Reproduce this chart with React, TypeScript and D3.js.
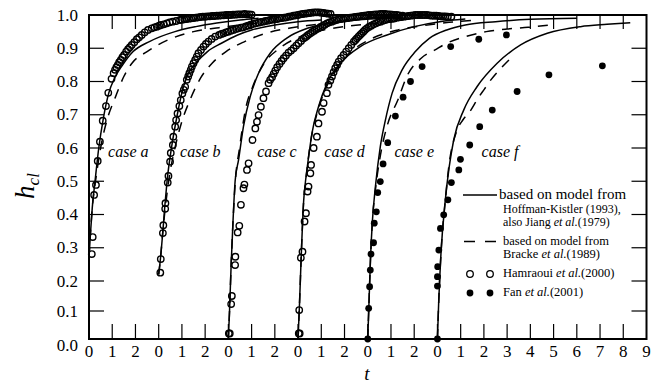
import React from "react";
import * as d3 from "d3";

type Pt = [number, number];

// Each case is drawn on its own local time axis, shifted along the global t axis.
const caseNames = ["a", "b", "c", "d", "e", "f"];
const caseOffsets = [0, 3, 6, 9, 12, 15];
const caseLabelT = [0.82, 0.92, 1.24, 1.13, 1.15, 1.9];
const caseTickLabels = [
  [0, 1, 2],
  [0, 1, 2],
  [0, 1, 2],
  [0, 1, 2],
  [0, 1, 2],
  [0, 1, 2, 3, 4, 5, 6, 7, 8, 9],
];
const yTicks = [0, 0.1, 0.2, 0.3, 0.4, 0.5, 0.6, 0.7, 0.8, 0.9, 1.0];
const yTickLabels = ["0.0", "0.1", "0.2", "0.3", "0.4", "0.5", "0.6", "0.7", "0.8", "0.9", "1.0"];

// Hoffman-Kistler model (solid) per case
const solidA: Pt[] = [[0, 0.27], [0.06, 0.34], [0.14, 0.42], [0.26, 0.5], [0.42, 0.6], [0.62, 0.69], [0.85, 0.765], [1.1, 0.81], [1.45, 0.85], [1.9, 0.89], [2.6, 0.92], [3.7, 0.95], [4.6, 0.965], [5.5, 0.976], [6.5, 0.985], [7.3, 0.99]];
const solidB: Pt[] = [[0, 0.22], [0.08, 0.27], [0.18, 0.35], [0.27, 0.43], [0.36, 0.5], [0.55, 0.6], [0.8, 0.7], [1.05, 0.78], [1.25, 0.82], [1.6, 0.855], [2.1, 0.89], [2.7, 0.915], [3.4, 0.94], [4.0, 0.955], [5.0, 0.97], [6.0, 0.98], [7.0, 0.985]];
const solidC: Pt[] = [[0, 0], [0.05, 0.1], [0.12, 0.25], [0.2, 0.38], [0.29, 0.5], [0.44, 0.565], [0.65, 0.665], [0.94, 0.755], [1.3, 0.825], [1.8, 0.885], [2.5, 0.93], [3.4, 0.96], [4.3, 0.975], [5.5, 0.985], [7.0, 0.99]];
const solidD: Pt[] = [[0, 0], [0.06, 0.12], [0.15, 0.3], [0.24, 0.44], [0.32, 0.5], [0.42, 0.555], [0.6, 0.645], [0.88, 0.724], [1.25, 0.795], [1.82, 0.855], [2.68, 0.905], [3.83, 0.94], [5.0, 0.965], [6.1, 0.98], [7.2, 0.988]];
const solidE: Pt[] = [[0, 0], [0.05, 0.12], [0.12, 0.27], [0.2, 0.38], [0.33, 0.484], [0.54, 0.604], [0.76, 0.684], [1.05, 0.765], [1.48, 0.835], [2.05, 0.89], [2.65, 0.93], [3.4, 0.955], [4.2, 0.97], [5.5, 0.98], [7.0, 0.987], [9.0, 0.99]];
const solidF: Pt[] = [[0, 0], [0.05, 0.12], [0.15, 0.28], [0.34, 0.444], [0.5, 0.54], [0.7, 0.624], [1.13, 0.714], [1.71, 0.785], [2.57, 0.855], [3.58, 0.91], [4.73, 0.945], [6.16, 0.965], [7.3, 0.972], [8.3, 0.977]];

// Bracke model (dashed) per case
const dashedA: Pt[] = [[0, 0.27], [0.06, 0.34], [0.14, 0.42], [0.28, 0.5], [0.5, 0.6], [0.8, 0.69], [1.12, 0.75], [1.5, 0.815], [1.85, 0.855], [2.5, 0.89], [3.4, 0.925], [4.5, 0.95], [5.6, 0.962], [6.5, 0.97], [7.5, 0.978]];
const dashedB: Pt[] = [[0, 0.22], [0.08, 0.27], [0.18, 0.35], [0.3, 0.43], [0.45, 0.51], [0.7, 0.6], [1.0, 0.68], [1.35, 0.745], [1.8, 0.81], [2.3, 0.855], [2.9, 0.89], [3.7, 0.92], [4.6, 0.945], [5.6, 0.96], [6.6, 0.97], [7.6, 0.978]];
const dashedC: Pt[] = [[0, 0], [0.05, 0.1], [0.12, 0.25], [0.2, 0.38], [0.3, 0.5], [0.48, 0.6], [0.75, 0.72], [1.05, 0.785], [1.5, 0.85], [2.2, 0.9], [3.1, 0.935], [4.1, 0.955], [5.2, 0.967], [6.3, 0.975], [7.4, 0.982]];
const dashedD: Pt[] = [[0, 0], [0.06, 0.12], [0.15, 0.3], [0.24, 0.44], [0.33, 0.5], [0.5, 0.6], [0.8, 0.7], [1.2, 0.78], [1.7, 0.84], [2.3, 0.89], [3.2, 0.93], [4.3, 0.955], [5.4, 0.968], [6.5, 0.978], [7.5, 0.984]];
const dashedE: Pt[] = [[0, 0], [0.05, 0.12], [0.12, 0.27], [0.2, 0.38], [0.34, 0.48], [0.55, 0.58], [0.85, 0.67], [1.3, 0.745], [1.68, 0.815], [2.3, 0.87], [2.9, 0.895], [3.4, 0.915], [4.2, 0.935], [5.1, 0.95], [6.0, 0.958], [6.9, 0.963], [7.9, 0.97]];
const dashedF: Pt[] = [[0, 0], [0.05, 0.12], [0.15, 0.28], [0.34, 0.444], [0.5, 0.55], [0.8, 0.645], [1.1, 0.685], [1.4, 0.71], [1.75, 0.75], [2.0, 0.775], [2.3, 0.805], [2.6, 0.83], [3.08, 0.865]];

// Hamraoui et al. (2000), open circles
const hamraouiA: Pt[] = [[0.12, 0.281], [0.16, 0.332], [0.22, 0.459], [0.3, 0.489], [0.375, 0.561], [0.47, 0.619], [0.59, 0.682], [0.73, 0.726], [0.83, 0.766], [0.97, 0.808], [1.06, 0.825], [1.12, 0.835], [1.18, 0.843], [1.24, 0.85], [1.3, 0.858], [1.37, 0.865], [1.44, 0.873], [1.51, 0.88], [1.6, 0.89], [1.68, 0.897], [1.76, 0.903], [1.84, 0.91], [1.95, 0.918], [2.06, 0.927], [2.16, 0.933], [2.27, 0.94], [2.4, 0.948], [2.54, 0.955], [2.7, 0.96], [2.82, 0.963], [2.92, 0.965], [3.02, 0.968], [3.1, 0.97], [3.22, 0.972], [3.35, 0.975], [3.47, 0.978], [3.6, 0.98], [3.75, 0.982], [3.92, 0.985], [4.0, 0.986], [4.1, 0.987], [4.2, 0.988], [4.3, 0.989], [4.4, 0.99], [4.5, 0.991], [4.6, 0.992], [4.7, 0.993], [4.8, 0.994], [4.9, 0.995], [5.0, 0.995], [5.1, 0.996], [5.2, 0.996], [5.3, 0.997], [5.4, 0.997], [5.5, 0.998], [5.6, 0.998], [5.7, 0.999], [5.8, 0.999], [5.9, 1.0], [6.0, 1.0], [6.1, 1.0], [6.2, 1.001], [6.3, 1.001], [6.4, 1.002], [6.5, 1.002], [6.6, 1.002], [6.7, 1.003], [6.8, 1.002], [6.9, 1.002], [7.0, 1.001]];
const hamraouiB: Pt[] = [[0.07, 0.225], [0.09, 0.266], [0.18, 0.344], [0.2, 0.368], [0.28, 0.417], [0.29, 0.434], [0.39, 0.496], [0.42, 0.516], [0.49, 0.559], [0.52, 0.585], [0.61, 0.609], [0.63, 0.634], [0.71, 0.664], [0.75, 0.684], [0.81, 0.704], [0.89, 0.726], [0.95, 0.744], [1.02, 0.764], [1.08, 0.775], [1.14, 0.784], [1.21, 0.805], [1.27, 0.815], [1.32, 0.825], [1.38, 0.835], [1.43, 0.845], [1.5, 0.855], [1.57, 0.865], [1.64, 0.875], [1.71, 0.885], [1.82, 0.895], [1.93, 0.905], [2.03, 0.913], [2.14, 0.92], [2.28, 0.928], [2.43, 0.935], [2.6, 0.94], [2.7, 0.943], [2.79, 0.945], [2.9, 0.948], [3.0, 0.95], [3.11, 0.953], [3.22, 0.955], [3.33, 0.958], [3.43, 0.96], [3.54, 0.962], [3.64, 0.963], [3.75, 0.966], [3.85, 0.968], [3.96, 0.971], [4.07, 0.973], [4.18, 0.975], [4.3, 0.977], [4.4, 0.979], [4.5, 0.98], [4.6, 0.982], [4.7, 0.983], [4.8, 0.985], [4.9, 0.986], [5.0, 0.987], [5.1, 0.988], [5.2, 0.99], [5.3, 0.991], [5.4, 0.992], [5.5, 0.993], [5.6, 0.995], [5.7, 0.996], [5.8, 0.998], [5.9, 0.999], [6.0, 1.0], [6.1, 1.002], [6.2, 1.003], [6.3, 1.004], [6.4, 1.005], [6.5, 1.006], [6.6, 1.007], [6.7, 1.008], [6.8, 1.008], [6.9, 1.008], [7.0, 1.007], [7.1, 1.006], [7.2, 1.005], [7.3, 1.004], [7.4, 1.003]];
const hamraouiC: Pt[] = [[0.02, 0.02], [0.06, 0.02], [0.12, 0.123], [0.15, 0.15], [0.29, 0.248], [0.3, 0.273], [0.4, 0.346], [0.47, 0.366], [0.54, 0.429], [0.65, 0.479], [0.69, 0.49], [0.8, 0.534], [0.87, 0.554], [1.04, 0.624], [1.16, 0.659], [1.23, 0.679], [1.3, 0.699], [1.4, 0.724], [1.51, 0.75], [1.62, 0.77], [1.73, 0.795], [1.8, 0.805], [1.88, 0.813], [1.95, 0.823], [2.02, 0.833], [2.1, 0.843], [2.2, 0.853], [2.29, 0.862], [2.38, 0.87], [2.48, 0.878], [2.59, 0.887], [2.7, 0.893], [2.81, 0.9], [2.92, 0.908], [3.02, 0.915], [3.13, 0.922], [3.24, 0.93], [3.31, 0.933], [3.38, 0.937], [3.45, 0.941], [3.53, 0.945], [3.61, 0.949], [3.7, 0.953], [3.79, 0.957], [3.88, 0.96], [3.97, 0.964], [4.06, 0.967], [4.15, 0.971], [4.25, 0.975], [4.35, 0.978], [4.45, 0.98], [4.55, 0.983], [4.65, 0.985], [4.75, 0.987], [4.85, 0.988], [4.95, 0.989], [5.05, 0.99], [5.15, 0.991], [5.25, 0.992], [5.35, 0.993], [5.45, 0.994], [5.55, 0.995], [5.65, 0.996], [5.75, 0.997], [5.85, 0.998], [5.95, 0.999], [6.05, 1.0], [6.15, 1.0], [6.25, 1.001], [6.35, 1.002], [6.45, 1.002], [6.55, 1.003], [6.65, 1.003], [6.75, 1.003], [6.85, 1.002], [6.95, 1.002], [7.05, 1.001], [7.15, 1.0], [7.25, 1.0], [7.35, 0.999], [7.5, 0.998]];
const hamraouiD: Pt[] = [[0.03, 0.02], [0.07, 0.02], [0.05, 0.103], [0.12, 0.27], [0.19, 0.288], [0.28, 0.379], [0.34, 0.404], [0.41, 0.469], [0.45, 0.484], [0.53, 0.524], [0.56, 0.549], [0.67, 0.6], [0.81, 0.634], [0.88, 0.674], [1.03, 0.709], [1.1, 0.735], [1.24, 0.765], [1.31, 0.79], [1.39, 0.803], [1.46, 0.815], [1.53, 0.828], [1.6, 0.84], [1.68, 0.85], [1.75, 0.86], [1.85, 0.87], [1.96, 0.88], [2.07, 0.89], [2.18, 0.9], [2.29, 0.91], [2.4, 0.92], [2.47, 0.925], [2.53, 0.93], [2.6, 0.935], [2.67, 0.94], [2.74, 0.945], [2.81, 0.95], [2.88, 0.955], [2.96, 0.96], [3.05, 0.964], [3.15, 0.968], [3.25, 0.972], [3.35, 0.975], [3.45, 0.978], [3.55, 0.98], [3.65, 0.983], [3.75, 0.985], [3.85, 0.987], [3.95, 0.988], [4.05, 0.989], [4.15, 0.99], [4.25, 0.992], [4.35, 0.993], [4.45, 0.994], [4.55, 0.995], [4.65, 0.996], [4.75, 0.997], [4.85, 0.998], [4.95, 0.999], [5.05, 1.0], [5.15, 1.0], [5.25, 1.0], [5.35, 1.0], [5.45, 1.0], [5.55, 1.0], [5.65, 0.999], [5.75, 0.998], [5.85, 0.998], [5.95, 0.998], [6.05, 0.997], [6.15, 0.996], [6.25, 0.996], [6.35, 0.996], [6.45, 0.995], [6.6, 0.995]];

// Fan et al. (2001), filled circles
const fanE: Pt[] = [[0, 0], [0.04, 0.109], [0.08, 0.181], [0.11, 0.233], [0.14, 0.281], [0.25, 0.315], [0.28, 0.374], [0.37, 0.408], [0.43, 0.466], [0.54, 0.499], [0.66, 0.552], [0.86, 0.616], [1.19, 0.696], [1.52, 0.753], [1.84, 0.8], [2.34, 0.845], [3.57, 0.905], [4.78, 0.927], [5.97, 0.94]];
const fanF: Pt[] = [[0, 0], [0, 0.183], [0, 0.213], [0.01, 0.243], [0.06, 0.293], [0.13, 0.358], [0.27, 0.399], [0.45, 0.444], [0.6, 0.496], [0.92, 0.534], [0.99, 0.566], [1.39, 0.609], [1.82, 0.664], [2.36, 0.714], [3.43, 0.77], [4.8, 0.82], [7.1, 0.847]];

const solids = [solidA, solidB, solidC, solidD, solidE, solidF];
const dashes = [dashedA, dashedB, dashedC, dashedD, dashedE, dashedF];
const openSets: [number, Pt[]][] = [[0, hamraouiA], [3, hamraouiB], [6, hamraouiC], [9, hamraouiD]];
const filledSets: [number, Pt[]][] = [[12, fanE], [15, fanF]];

const W = 659;
const H = 385;
const left = 89;
const right = 646.5;
const top = 15;
const bottom = 339;
const serif = { fontFamily: '"Liberation Serif"' };

export default function App() {
  const x = d3.scaleLinear().domain([0, 24]).range([left, right]);
  const y = d3.scaleLinear().domain([0, 0.1, 0.2, 1]).range([bottom, 311, 281, top]);

  const lineFor = (off: number) =>
    d3
      .line<Pt>()
      .x((d) => x(off + d[0]))
      .y((d) => y(d[1]))
      .curve(d3.curveMonotoneX);

  const innerTicks = d3.range(1, 24);
  const yInner = yTicks.slice(1, -1);

  return (
    <svg width={W} height={H} style={{ display: "block", position: "absolute", left: 0, top: 0, background: "#fff" }}>
      <rect x={0} y={0} width={W} height={H} fill="#fff" />

      {/* model curves */}
      {solids.map((s, i) => (
        <path key={"s" + i} d={lineFor(caseOffsets[i])(s) || ""} fill="none" stroke="#000" strokeWidth={1.5} />
      ))}
      {dashes.map((s, i) => (
        <path key={"d" + i} d={lineFor(caseOffsets[i])(s) || ""} fill="none" stroke="#000" strokeWidth={1.5} strokeDasharray="10,8" />
      ))}

      {/* frame */}
      <rect x={left} y={top} width={right - left} height={bottom - top} fill="none" stroke="#000" strokeWidth={2} />

      {/* ticks */}
      {innerTicks.map((t) => (
        <g key={"xt" + t}>
          <line x1={x(t)} x2={x(t)} y1={bottom} y2={bottom - 15} stroke="#000" strokeWidth={1.2} />
          <line x1={x(t)} x2={x(t)} y1={top} y2={top + 14} stroke="#000" strokeWidth={1.2} />
        </g>
      ))}
      {yInner.map((v) => (
        <g key={"yt" + v}>
          <line x1={left} x2={left + 15} y1={y(v)} y2={y(v)} stroke="#000" strokeWidth={1.2} />
          <line x1={right} x2={right - 15} y1={y(v)} y2={y(v)} stroke="#000" strokeWidth={1.2} />
        </g>
      ))}

      {/* data points */}
      {openSets.map(([off, pts], i) =>
        pts.map((p, j) => (
          <circle key={"o" + i + "-" + j} cx={x(off + p[0])} cy={y(p[1])} r={3.2} fill="none" stroke="#000" strokeWidth={1.4} />
        ))
      )}
      {filledSets.map(([off, pts], i) =>
        pts.map((p, j) => <circle key={"f" + i + "-" + j} cx={x(off + p[0])} cy={y(p[1])} r={3.4} fill="#000" />)
      )}

      {/* y tick labels */}
      {yTicks.map((v, i) => (
        <text key={"yl" + i} x={78} y={v === 0 ? 351 : y(v) + 5.5} textAnchor="end" fontSize={17} style={serif}>
          {yTickLabels[i]}
        </text>
      ))}

      {/* x tick labels */}
      {caseTickLabels.map((labels, i) =>
        labels.map((l) => (
          <text key={"xl" + i + "-" + l} x={x(caseOffsets[i] + l)} y={357} textAnchor="middle" fontSize={17} style={serif}>
            {l}
          </text>
        ))
      )}

      {/* case labels */}
      {caseNames.map((n, i) => (
        <text key={"c" + n} x={x(caseOffsets[i] + caseLabelT[i])} y={157} fontSize={16} fontStyle="italic" style={serif}>
          case {n}
        </text>
      ))}

      {/* axis titles */}
      <text transform="translate(34,186) rotate(-90)" textAnchor="middle" fontStyle="italic" style={serif}>
        <tspan fontSize={27}>h</tspan>
        <tspan fontSize={17} dy={5}>cl</tspan>
      </text>
      <text x={367} y={380} textAnchor="middle" fontStyle="italic" fontSize={19} style={serif}>
        t
      </text>

      {/* legend */}
      <line x1={463} x2={497} y1={195} y2={195} stroke="#000" strokeWidth={1.5} />
      <text x={499} y={199} fontSize={15} style={serif}>based on model from</text>
      <text x={503} y={212.5} fontSize={12} style={serif}>Hoffman-Kistler (1993),</text>
      <text x={503} y={226} fontSize={12} style={serif}>
        also Jiang <tspan fontStyle="italic">et al.</tspan>(1979)
      </text>
      <line x1={464} x2={497} y1={241.5} y2={241.5} stroke="#000" strokeWidth={1.5} strokeDasharray="11,10" />
      <text x={503} y={245} fontSize={12.5} style={serif}>based on model from</text>
      <text x={503} y={258} fontSize={12.5} style={serif}>
        Bracke <tspan fontStyle="italic">et al.</tspan>(1989)
      </text>
      <circle cx={470} cy={274} r={3.3} fill="none" stroke="#000" strokeWidth={1.3} />
      <circle cx={490} cy={274} r={3.3} fill="none" stroke="#000" strokeWidth={1.3} />
      <text x={503} y={277} fontSize={12.5} style={serif}>
        Hamraoui <tspan fontStyle="italic">et al.</tspan>(2000)
      </text>
      <circle cx={470} cy={293} r={3.4} fill="#000" />
      <circle cx={490} cy={293} r={3.4} fill="#000" />
      <text x={503} y={296} fontSize={12.5} style={serif}>
        Fan <tspan fontStyle="italic">et al.</tspan>(2001)
      </text>
    </svg>
  );
}
